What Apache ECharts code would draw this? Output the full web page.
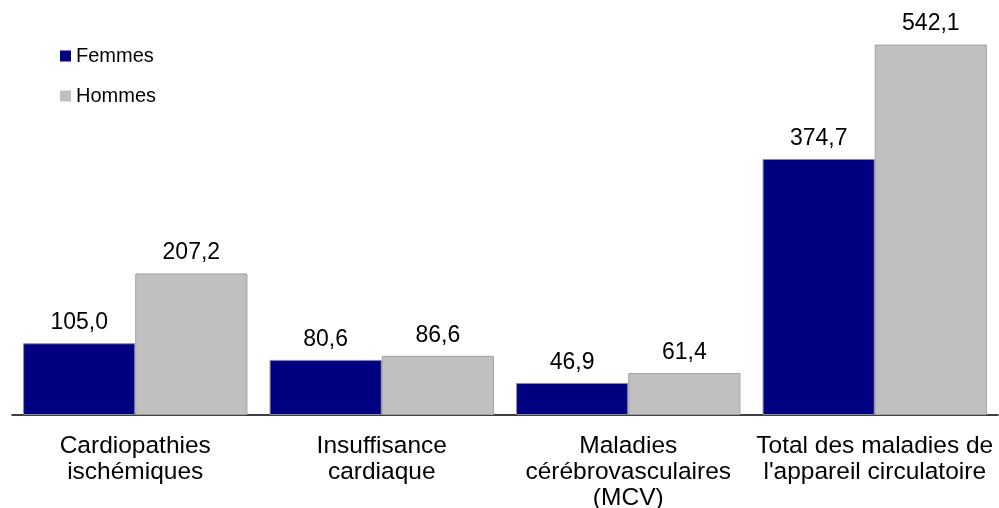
<!DOCTYPE html>
<html>
<head>
<meta charset="utf-8">
<script src="https://cdn.jsdelivr.net/npm/echarts@6/dist/echarts.min.js"></script>
<style>
  html, body { margin: 0; padding: 0; background: #fff; overflow: hidden; }
  #chart { width: 999px; height: 508px; }
</style>
</head>
<body>
<div id="chart"></div>
<script>
// Causes de décès, par sexe
const categories = [
  'Cardiopathies\nischémiques',
  'Insuffisance\ncardiaque',
  'Maladies\ncérébrovasculaires\n(MCV)',
  'Total des maladies de\nl\'appareil circulatoire'
];
const femmes = [105.0, 80.6, 46.9, 374.7];
const hommes = [207.2, 86.6, 61.4, 542.1];

const fmt = v => v.toFixed(1).replace('.', ',');
const font = 'Liberation Sans, Arial, sans-serif';

const chart = echarts.init(document.getElementById('chart'), null, { renderer: 'canvas' });
chart.setOption({
  animation: false,
  textStyle: { fontFamily: font },
  legend: {
    orient: 'vertical',
    left: 55,
    top: 41,
    itemWidth: 11,
    itemHeight: 11,
    itemGap: 20,
    icon: 'rect',
    itemStyle: { borderWidth: 0 },
    textStyle: { fontSize: 20, color: '#000', fontFamily: font, padding: [0, 0, 0, 0] },
    data: ['Femmes', 'Hommes']
  },
  // fixed plot box; labels below are allowed to use the space under it
  grid: {
    left: 12, width: 986, top: 5, height: 410,
    containLabel: false,
    outerBoundsMode: 'none'
  },
  xAxis: {
    type: 'category',
    data: categories,
    axisLine: { lineStyle: { color: '#000', width: 1.5 } },
    axisTick: { show: false },
    axisLabel: {
      interval: 0,
      color: '#000',
      fontSize: 24.5,
      lineHeight: 26,
      margin: 18,
      fontFamily: font
    }
  },
  yAxis: {
    type: 'value',
    min: 0,
    max: 600,
    show: false,
    splitLine: { show: false }
  },
  series: [
    {
      name: 'Femmes',
      type: 'bar',
      data: femmes,
      barWidth: '45.5%',
      barGap: '0%',
      itemStyle: { color: '#000080', borderColor: '#8888aa', borderWidth: 1 },
      label: {
        show: true, position: 'top', distance: 9,
        fontSize: 23, color: '#000', fontFamily: font,
        formatter: p => fmt(p.value)
      }
    },
    {
      name: 'Hommes',
      type: 'bar',
      data: hommes,
      barWidth: '45.5%',
      barGap: '0%',
      itemStyle: { color: '#c0c0c0', borderColor: '#a0a0a0', borderWidth: 1 },
      label: {
        show: true, position: 'top', distance: 9,
        fontSize: 23, color: '#000', fontFamily: font,
        formatter: p => fmt(p.value)
      }
    }
  ]
});
</script>
</body>
</html>
